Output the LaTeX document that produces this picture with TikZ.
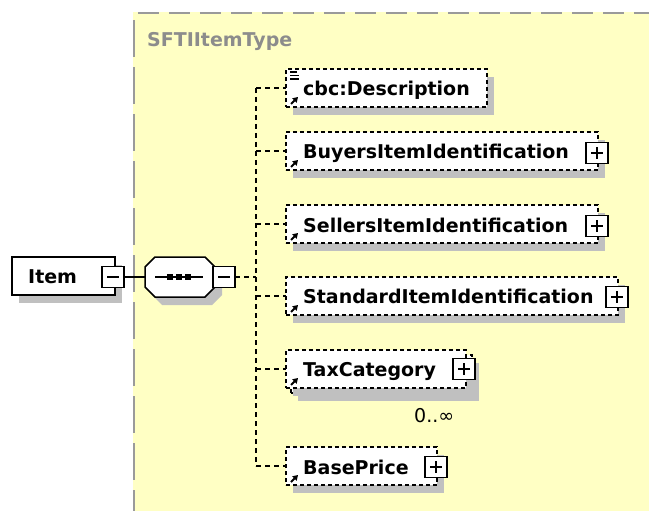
\documentclass[tikz,border=0pt]{standalone}
\usepackage{fontspec}
\setmainfont{DejaVu Sans}
\usetikzlibrary{calc,arrows.meta,shadows}
\definecolor{bgyellow}{HTML}{FFFFC4}
\definecolor{shadowgray}{HTML}{C0C0C0}
\definecolor{framegray}{HTML}{9A9A9A}
\definecolor{titlegray}{HTML}{8C8C8C}
\tikzset{
  boxshadow/.style={drop shadow={shadow xshift=7pt, shadow yshift=-8pt, fill=shadowgray, opacity=1}},
  elem/.style={draw=black, line width=1.5pt, dash pattern=on 4pt off 3pt, fill=white, anchor=north west, inner sep=0pt, outer sep=0pt, minimum height=38pt, boxshadow},
  solidelem/.style={draw=black, line width=1.5pt, fill=white, anchor=north west, inner sep=0pt, outer sep=0pt, minimum height=38pt, boxshadow},
  lbl/.style={font=\fontsize{19}{23}\selectfont\bfseries, anchor=base west, inner sep=0pt},
  toggle/.style={draw=black, line width=1.5pt, fill=white, minimum width=22pt, minimum height=21pt, inner sep=0pt, outer sep=0pt},
  conn/.style={line width=1.5pt, dash pattern=on 5pt off 4pt},
  refarrow/.style={line width=2pt, -{Triangle[length=5pt,width=6pt]}},
  symline/.style={line width=1.5pt},
}
\newcommand{\minussym}[1]{\draw[symline] ($(#1.center)+(-6,0)$) -- ($(#1.center)+(6,0)$);}
\newcommand{\plussym}[1]{\draw[symline] ($(#1.center)+(-6,0)$) -- ($(#1.center)+(6,0)$); \draw[symline] ($(#1.center)+(0,-6)$) -- ($(#1.center)+(0,6)$);}
\newcommand{\refmark}[1]{\draw[refarrow] ($(#1.south west)+(5,-3)$) -- ++(7,-7);}
\begin{document}
\begin{tikzpicture}[x=1pt,y=-1pt]
\useasboundingbox (0,0) rectangle (649,511);
% complex type region
\fill[bgyellow] (133,12) rectangle (649,511);
\draw[framegray, line width=2pt, dash pattern=on 21pt off 10pt] (138,13) -- (649,13);
\draw[framegray, line width=2pt, dash pattern=on 37pt off 10pt] (134,20) -- (134,511);
\node[font=\fontsize{19}{23}\selectfont\bfseries, text=titlegray, anchor=base west, inner sep=0pt] (title) at (147,47) {SFTIItemType};

% Item element
\node[solidelem, minimum width=103pt] (item) at (12,257) {};
\node[lbl] (itemT) at (28,283) {Item};
\node[toggle] (itemM) at (113,277) {};
\minussym{itemM}

% sequence compositor
\fill[shadowgray] (152,275) -- (162,265) -- (212,265) -- (222,275) -- (222,295) -- (212,305) -- (162,305) -- (152,295) -- cycle;
\draw[line width=1.5pt, fill=white] (145,267) -- (155,257) -- (205,257) -- (215,267) -- (215,287) -- (205,297) -- (155,297) -- (145,287) -- cycle;
\coordinate (seqL) at (145,277);
\draw[line width=1.5pt] (155,277) -- (203,277);
\fill (167,274) rectangle ++(6,6);
\fill (176,274) rectangle ++(6,6);
\fill (185,274) rectangle ++(6,6);
\node[toggle] (seqM) at (224,277) {};
\minussym{seqM}
\draw[line width=1.5pt] (itemM.east) -- (seqL);

% child elements
\node[elem, minimum width=201pt] (desc) at (286,69) {};
\node[elem, minimum width=312pt] (buyers) at (286,132) {};
\node[elem, minimum width=312pt] (sellers) at (286,205) {};
\node[elem, minimum width=332pt] (standard) at (286,277) {};
\node[elem, minimum width=181pt] (taxback) at (291,355) {};
\node[elem, minimum width=180pt, drop shadow={opacity=0}] (tax) at (286,350) {};
\node[elem, minimum width=151pt] (base) at (286,447) {};

% connectors
\coordinate (spine) at (256,277);
\draw[conn] (seqM.east) -- (spine);
\draw[conn] (spine |- desc.west) -- (spine |- base.west);
\foreach \c in {desc,buyers,sellers,standard,tax,base}{
  \draw[conn] (spine |- \c.west) -- (\c.west);
}

% labels
\node[lbl] (descT) at (303,96) {cbc:Description};
\node[lbl] (buyersT) at (303,159) {BuyersItemIdentification};
\node[lbl] (sellersT) at (303,232) {SellersItemIdentification};
\node[lbl] (standardT) at (303,303) {StandardItemIdentification};
\node[lbl] (taxT) at (303,376) {TaxCategory};
\node[lbl] (baseT) at (303,474) {BasePrice};
\node[font=\fontsize{19}{23}\selectfont, anchor=base west, inner sep=0pt] (taxOcc) at (414,422) {0..∞};

% reference arrows
\foreach \c in {desc,buyers,sellers,standard,tax,base}{
  \refmark{\c}
}
% documentation icon
\draw[symline] (290,72) -- (297,72);
\draw[symline] (290,75.5) -- (299,75.5);
\draw[symline] (290,79) -- (299,79);

% expand toggles
\node[toggle] (buyersP) at (597,153) {};
\plussym{buyersP}
\node[toggle] (sellersP) at (597,226) {};
\plussym{sellersP}
\node[toggle] (standardP) at (617,297) {};
\plussym{standardP}
\node[toggle] (taxP) at (464,369) {};
\plussym{taxP}
\node[toggle] (baseP) at (436,467) {};
\plussym{baseP}
\end{tikzpicture}
\end{document}
